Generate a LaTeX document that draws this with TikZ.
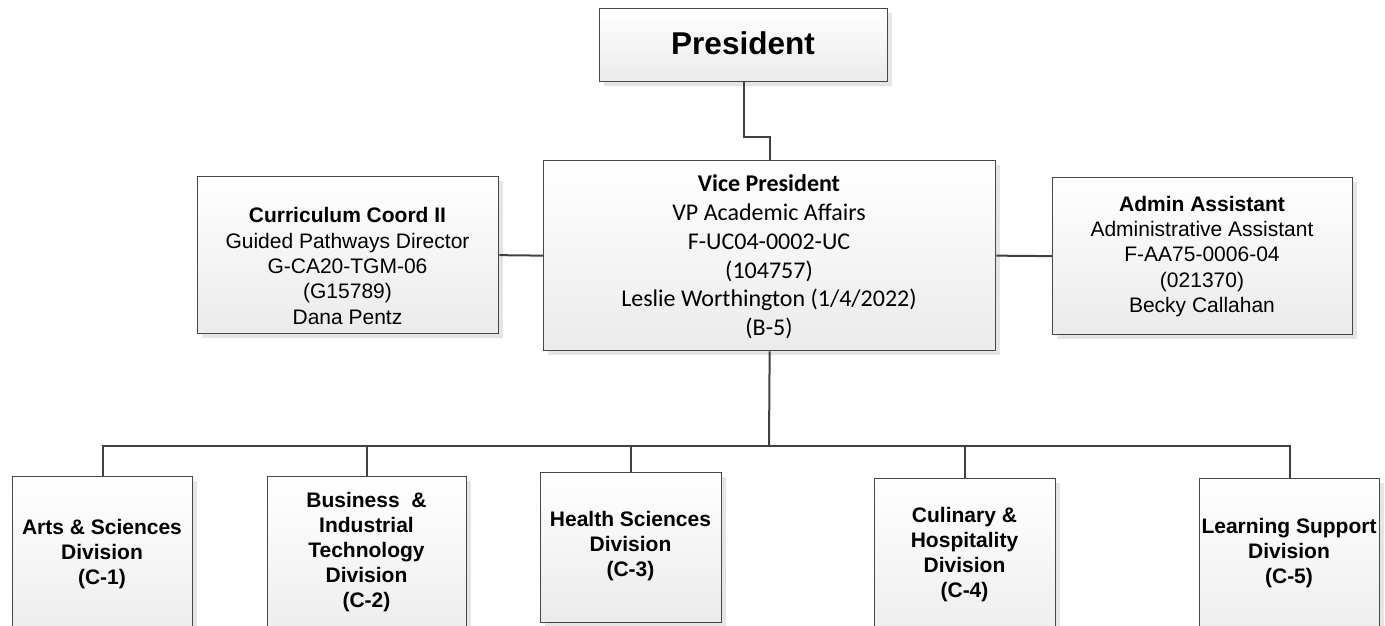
\documentclass[tikz,border=0pt]{standalone}
\usepackage{fontspec}
\setmainfont{Liberation Sans}
\newfontfamily\calibrifont{Carlito}
\usetikzlibrary{shadows}
\newcommand{\mlines}[1]{\begin{tabular}[t]{@{}c@{}}#1\end{tabular}}
\begin{document}
\begin{tikzpicture}[x=1pt,y=-1pt,
  box/.style={rectangle, draw=black!72, line width=1.3pt, top color=white, bottom color=black!8,
    drop shadow={shadow xshift=4pt, shadow yshift=-4pt, fill=black!10, opacity=1},
    inner sep=0pt, anchor=north west},
  wire/.style={draw=black!75, line width=2pt},
  txt/.style={anchor=base, inner sep=0pt, text=black, font=\fontsize{21}{25.4}\selectfont},
  btxt/.style={anchor=base, inner sep=0pt, text=black, font=\fontsize{21}{25}\selectfont\bfseries},
  vtxt/.style={anchor=base, inner sep=0pt, text=black, font=\calibrifont\fontsize{24}{28.8}\selectfont},
  ptxt/.style={anchor=base, inner sep=0pt, text=black, font=\fontsize{31.5}{38}\selectfont\bfseries}
]
\useasboundingbox (0,0) rectangle (1385,626);
\clip (0,0) rectangle (1385,626);

% boxes
\node[box, minimum width=288pt, minimum height=73pt] (pres) at (599,8) {};
\node[box, minimum width=452pt, minimum height=190pt] (vp) at (543,160) {};
\node[box, minimum width=301pt, minimum height=157pt] (cur) at (197,176) {};
\node[box, minimum width=300pt, minimum height=157pt] (adm) at (1052,177) {};
\node[box, minimum width=180pt, minimum height=180pt] (d1) at (12,476) {};
\node[box, minimum width=199pt, minimum height=180pt] (d2) at (267,476) {};
\node[box, minimum width=181pt, minimum height=150pt] (d3) at (540,472) {};
\node[box, minimum width=181pt, minimum height=180pt] (d4) at (874,478) {};
\node[box, minimum width=180pt, minimum height=180pt] (d5) at (1199,478) {};

% connectors
\draw[wire] (pres.south) -- ++(0,55) -| (vp.north);
\draw[wire] (cur.east) -- (vp.west);
\draw[wire] (vp.east) -- (adm.west);
\coordinate (bus) at (769,446);
\draw[wire] (vp.south) -- (bus);
\foreach \d in {d1,d2,d3,d4,d5} \draw[wire] (bus) -| (\d.north);

% texts
\node[ptxt] (presT) at (743,55) {President};
\node[vtxt] (vpT) at (769,191.7) {\mlines{\textbf{Vice President}\\VP Academic Affairs\\F-UC04-0002-UC\\(104757)\\Leslie Worthington (1/4/2022)\\(B-5)}};
\node[txt] (curT) at (347.5,222.7) {\mlines{\textbf{Curriculum Coord II}\\Guided Pathways Director\\G-CA20-TGM-06\\(G15789)\\Dana Pentz}};
\node[txt] (admT) at (1202,211) {\mlines{\textbf{Admin Assistant}\\Administrative Assistant\\F-AA75-0006-04\\(021370)\\Becky Callahan}};
\node[btxt] (d1T) at (102,534) {\mlines{Arts \& Sciences\\Division\\(C-1)}};
\node[btxt] (d2T) at (366.5,507) {\mlines{Business~ \&\\Industrial\\Technology\\Division\\(C-2)}};
\node[btxt] (d3T) at (630.5,526) {\mlines{Health Sciences\\Division\\(C-3)}};
\node[btxt] (d4T) at (964.5,522) {\mlines{Culinary \&\\Hospitality\\Division\\(C-4)}};
\node[btxt] (d5T) at (1289,533) {\mlines{Learning Support\\Division\\(C-5)}};
\end{tikzpicture}
\end{document}
